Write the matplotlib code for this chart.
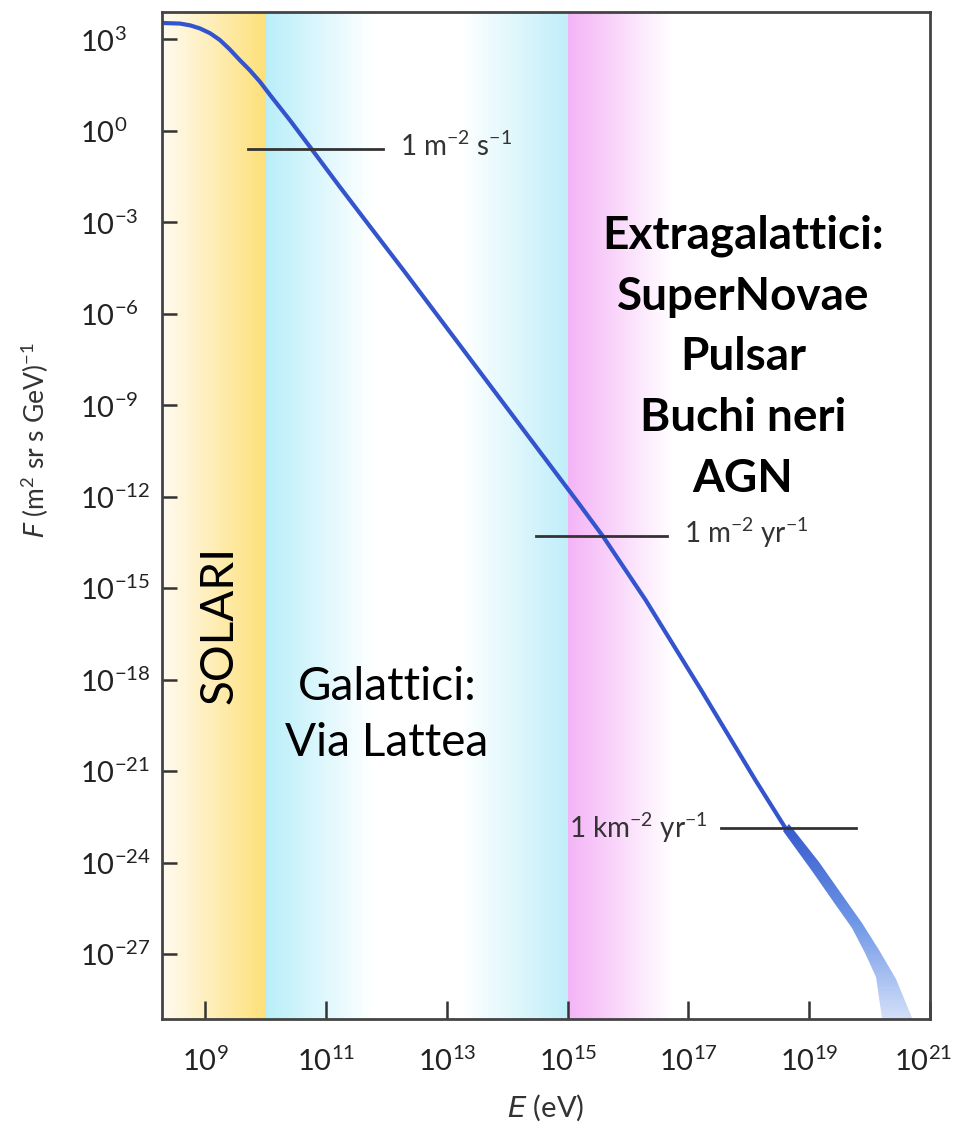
import matplotlib
matplotlib.use('Agg')
import matplotlib.pyplot as plt
import numpy as np
from matplotlib.colors import LinearSegmentedColormap
from matplotlib.ticker import FixedLocator, FuncFormatter
from matplotlib.transforms import ScaledTranslation

plt.rcParams['font.family'] = ['Lato', 'DejaVu Sans']
plt.rcParams['mathtext.default'] = 'regular'

# spettro dei raggi cosmici (log10 E [eV], log10 F)
log_e = [8.28, 8.58, 8.75, 8.91, 9.08, 9.24, 9.40, 9.57, 9.73, 9.90,
         10.07, 10.40, 10.73, 11.22, 11.72, 12.30, 15.14, 15.58, 16.29,
         17.20, 18.11, 18.61]
log_f = [3.54, 3.52, 3.46, 3.36, 3.20, 2.98, 2.68, 2.32, 2.00, 1.62,
         1.18, 0.35, -0.52, -1.82, -3.12, -4.62, -12.10, -13.28, -15.38,
         -18.30, -21.29, -22.87]

# banda di incertezza oltre la caviglia
band_up_e = [18.66, 19.16, 19.60, 19.87, 20.15, 20.43, 20.76]
band_up_f = [-22.72, -23.98, -25.18, -25.98, -26.85, -27.80, -29.30]
band_lo_e = [18.56, 19.05, 19.43, 19.71, 19.93, 20.10, 20.22]
band_lo_f = [-22.95, -24.28, -25.36, -26.14, -26.95, -27.75, -29.30]

# linee di riferimento
ref_f = [-0.58, -13.28, -22.87]
ref_e0 = [9.71, 14.48, 17.54]
ref_e1 = [11.94, 16.65, 19.77]
ref_labels = ['1 m$^{-2}$ s$^{-1}$', '1 m$^{-2}$ yr$^{-1}$', '1 km$^{-2}$ yr$^{-1}$']

# fasce colorate (log10 E inizio, fine, colore inizio, colore fine)
zone_start = [8.28, 10.0, 13.2, 15.0]
zone_end = [10.0, 11.8, 15.0, 16.75]
zone_c0 = ['#fffaf0', '#b9eef9', '#ffffff', '#f4b3f6']
zone_c1 = ['#fde07a', '#ffffff', '#c0eef9', '#ffffff']

x_ticks = [9, 11, 13, 15, 17, 19, 21]
y_ticks = [3, 0, -3, -6, -9, -12, -15, -18, -21, -24, -27]
xlim = (8.28, 21.0)
ylim = (-29.12, 3.90)

fig = plt.figure(figsize=(9.55, 11.31), dpi=100)
ax = fig.add_axes([0.1696, 0.0990, 0.8042, 0.8904])
ax.set_xscale('log')
ax.set_yscale('log')
ax.set_xlim(10 ** xlim[0], 10 ** xlim[1])
ax.set_ylim(10 ** ylim[0], 10 ** ylim[1])

# fasce sfumate
for s, e, c0, c1 in zip(zone_start, zone_end, zone_c0, zone_c1):
    cmap = LinearSegmentedColormap.from_list('z', [c0, c1])
    xe = np.logspace(s, e, 80)
    ye = np.array([10 ** ylim[0], 10 ** ylim[1]])
    c = np.linspace(0, 1, 79).reshape(1, -1)
    ax.pcolormesh(xe, ye, c, cmap=cmap, shading='flat', zorder=0,
                  rasterized=True)

# curva principale
ax.plot(10 ** np.array(log_e), 10 ** np.array(log_f), color='#3354cc',
        lw=3, solid_capstyle='round', solid_joinstyle='round', zorder=4)

# banda sfumata
poly_e = 10 ** np.array(band_up_e + band_lo_e[::-1])
poly_f = 10 ** np.array(band_up_f + band_lo_f[::-1])
patch = ax.fill(poly_e, poly_f, facecolor='none', edgecolor='none')[0]
cmap_b = LinearSegmentedColormap.from_list('b', ['#3356cc', '#7098e6', '#dbe5fa'])
ge = np.logspace(18.5, 20.8, 3)
gf = np.logspace(-29.4, -22.6, 120)
gc = np.linspace(1, 0, 119).reshape(-1, 1) * np.ones((1, 2))
mesh = ax.pcolormesh(ge, gf, gc, cmap=cmap_b, shading='flat', zorder=3)
mesh.set_clip_path(patch)

# linee di flusso di riferimento
for f, e0, e1, lab in zip(ref_f, ref_e0, ref_e1, ref_labels):
    ax.plot([10 ** e0, 10 ** e1], [10 ** f, 10 ** f], color='#333333',
            lw=2, zorder=5)
    if lab.startswith('1 km'):
        ax.annotate(lab, xy=(10 ** e0, 10 ** f), xytext=(-10, -7),
                    textcoords='offset points', ha='right', va='baseline',
                    fontsize=20, color='#333333')
    else:
        ax.annotate(lab, xy=(10 ** e1, 10 ** f), xytext=(12, -5),
                    textcoords='offset points', ha='left', va='baseline',
                    fontsize=20, color='#333333')

# testi delle sorgenti
ax.text(0.0745, 0.391, 'SOLARI', rotation=90, ha='center', va='center',
        fontsize=33, transform=ax.transAxes, zorder=6)
ax.text(0.293, 0.302, 'Galattici:\nVia Lattea', ha='center', va='center',
        fontsize=33, linespacing=1.42, transform=ax.transAxes, zorder=6)
ax.text(0.7565, 0.6574, 'Extragalattici:\nSuperNovae\nPulsar\nBuchi neri\nAGN',
        ha='center', va='center', fontsize=33, fontweight='bold',
        linespacing=1.55, transform=ax.transAxes, zorder=6)

# assi
ax.xaxis.set_major_locator(FixedLocator([10.0 ** t for t in x_ticks]))
ax.yaxis.set_major_locator(FixedLocator([10.0 ** t for t in y_ticks]))
ax.xaxis.set_minor_locator(FixedLocator([]))
ax.yaxis.set_minor_locator(FixedLocator([]))
fmt = FuncFormatter(lambda v, p: '10$^{%d}$' % round(np.log10(v)))
ax.xaxis.set_major_formatter(fmt)
ax.yaxis.set_major_formatter(fmt)
ax.tick_params(axis='x', direction='in', length=13, width=1.8,
               color='#333333', labelsize=21, pad=20, labelcolor='#222222')
ax.tick_params(axis='y', direction='in', length=11, width=1.8,
               color='#333333', labelsize=21, pad=59, labelcolor='#222222')
for lab in ax.get_yticklabels():
    lab.set_horizontalalignment('left')
last = ax.get_xticklabels()[-1]
last.set_transform(last.get_transform()
                   + ScaledTranslation(-7 / 100, 0, fig.dpi_scale_trans))
for sp in ax.spines.values():
    sp.set_color('#444444')
    sp.set_linewidth(2)
    sp.set_zorder(7)

ax.set_xlabel('$\\it{E}$ (eV)', fontsize=21, color='#333333', va='top')
ax.xaxis.set_label_coords(0.5, -0.073)
ax.set_ylabel('$\\it{F}$ (m$^{2}$ sr s GeV)$^{-1}$', fontsize=19,
              color='#333333', va='center')
ax.yaxis.set_label_coords(-0.165, 0.575)

fig.savefig('out.png', dpi=100, facecolor='white')
